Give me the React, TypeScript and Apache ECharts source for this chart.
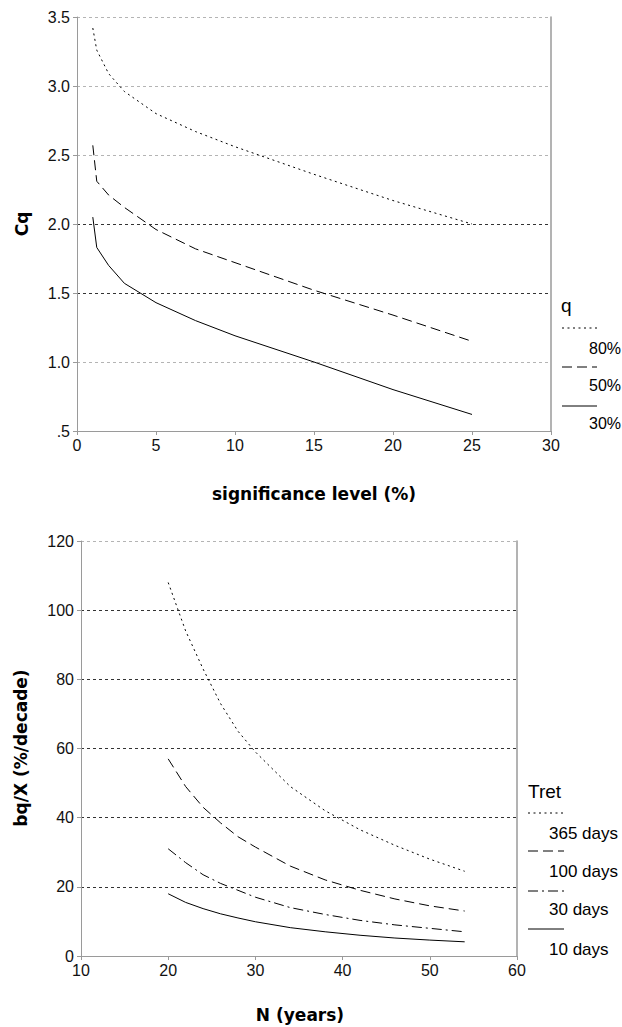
import React, { useEffect, useRef } from "react";
import * as echarts from "echarts";

// ---- Top chart data (Cq vs significance level) ----
const sigLevel = [1, 1.25, 2, 3, 5, 7.5, 10, 15, 20, 25];
const cq80 = [3.42, 3.26, 3.09, 2.96, 2.8, 2.67, 2.56, 2.36, 2.17, 2.0];
const cq50 = [2.57, 2.31, 2.21, 2.12, 1.96, 1.82, 1.72, 1.52, 1.34, 1.15];
const cq30 = [2.05, 1.83, 1.7, 1.57, 1.43, 1.3, 1.19, 1.0, 0.8, 0.62];
const topNames = ["80%", "50%", "30%"];
const topXTicks = [0, 30, 5];
const topYTicks = [0.5, 3.5, 0.5];

// ---- Bottom chart data (bq/X vs N) ----
const nYears = [20, 22, 24, 26, 28, 30, 34, 38, 42, 46, 50, 54];
const tret365 = [108, 94, 83, 73, 65, 59, 49, 42, 36.5, 32, 28, 24.5];
const tret100 = [57, 49, 43, 38.5, 34.5, 31.5, 26, 22, 19, 16.5, 14.5, 13];
const tret30 = [31, 27, 23.5, 21, 19, 17, 14, 12, 10.3, 9, 8, 7];
const tret10 = [18, 15.5, 13.7, 12.2, 11, 9.9, 8.2, 7, 6, 5.2, 4.6, 4.1];
const bottomNames = ["365 days", "100 days", "30 days", "10 days"];
const botXTicks = [10, 60, 10];
const botYTicks = [0, 120, 20];

const DOT = [2, 3.5];
const DASH = [10, 5];
const DASHDOT = [10, 4, 2, 4];
const SOLID: any = "solid";

const REG = "'Liberation Sans', Arial, sans-serif";
const BOLD = "'DejaVu Sans', sans-serif";
const AXIS_GRAY = "#9a9a9a";
const GRID_LIGHT = "#b4b4b4";
const GRID_DARK = "#333";

function pairs(xs: number[], ys: number[]) {
  return xs.map((x, i) => [x, ys[i]]);
}

export default function App() {
  const ref = useRef<HTMLDivElement>(null);
  useEffect(() => {
    document.body.style.margin = "0";
    const chart = echarts.init(ref.current!, null, { renderer: "svg" });

    const valueAxisCommon = {
      type: "value" as const,
      axisLine: { show: true, lineStyle: { color: AXIS_GRAY, width: 1 } },
      axisTick: { show: true, length: 4, lineStyle: { color: AXIS_GRAY } },
      axisLabel: { color: "#111", fontSize: 16, fontFamily: REG },
    };

    const topDash = [DOT, DASH, SOLID];
    const topData = [cq80, cq50, cq30];
    const botDash = [DOT, DASH, DASHDOT, SOLID];
    const botData = [tret365, tret100, tret30, tret10];

    const graphics: any[] = [
      {
        type: "text",
        x: 22,
        y: 224,
        rotation: Math.PI / 2,
        style: { text: "Cq", font: `bold 17px ${BOLD}`, fill: "#000", textAlign: "center", textVerticalAlign: "middle" },
      },
      {
        type: "text",
        x: 314,
        y: 494,
        style: { text: "significance level (%)", font: `bold 17px ${BOLD}`, fill: "#000", textAlign: "center", textVerticalAlign: "middle" },
      },
      {
        type: "text",
        x: 21,
        y: 748,
        rotation: Math.PI / 2,
        style: { text: "bq/X (%/decade)", font: `bold 17px ${BOLD}`, fill: "#000", textAlign: "center", textVerticalAlign: "middle" },
      },
      {
        type: "text",
        x: 300,
        y: 1015,
        style: { text: "N (years)", font: `bold 17px ${BOLD}`, fill: "#000", textAlign: "center", textVerticalAlign: "middle" },
      },
      // top legend
      {
        type: "text",
        x: 561,
        y: 305,
        style: { text: "q", font: `19px ${REG}`, fill: "#000", textAlign: "left", textVerticalAlign: "middle" },
      },
      // bottom legend
      {
        type: "text",
        x: 528,
        y: 791,
        style: { text: "Tret", font: `19px ${REG}`, fill: "#000", textAlign: "left", textVerticalAlign: "middle" },
      },
    ];
    const topLineY = [328, 367, 406];
    const topTextY = [348, 385, 423];
    topNames.forEach((name, i) => {
      graphics.push({
        type: "line",
        shape: { x1: 562, y1: topLineY[i], x2: 597, y2: topLineY[i] },
        style: { stroke: "#000", lineWidth: 1, lineDash: topDash[i] === SOLID ? null : topDash[i] },
      });
      graphics.push({
        type: "text",
        x: 589,
        y: topTextY[i],
        style: { text: name, font: `16px ${REG}`, fill: "#000", textAlign: "left", textVerticalAlign: "middle" },
      });
    });
    const botLineY = [813, 851, 891, 929];
    const botTextY = [833, 871, 909.5, 949];
    bottomNames.forEach((name, i) => {
      graphics.push({
        type: "line",
        shape: { x1: 528, y1: botLineY[i], x2: 564, y2: botLineY[i] },
        style: { stroke: "#000", lineWidth: 1, lineDash: botDash[i] === SOLID ? null : botDash[i] },
      });
      graphics.push({
        type: "text",
        x: 549,
        y: botTextY[i],
        style: { text: name, font: `17px ${REG}`, fill: "#000", textAlign: "left", textVerticalAlign: "middle" },
      });
    });

    const option: any = {
      animation: false,
      backgroundColor: "#fff",
      grid: [
        { left: 77, top: 17, width: 474, height: 414 },
        { left: 81, top: 541, width: 436, height: 415 },
      ],
      xAxis: [
        {
          ...valueAxisCommon,
          gridIndex: 0,
          min: topXTicks[0],
          max: topXTicks[1],
          interval: topXTicks[2],
          splitLine: { show: false },
          axisLabel: { ...valueAxisCommon.axisLabel, margin: 6 },
        },
        {
          ...valueAxisCommon,
          gridIndex: 1,
          min: botXTicks[0],
          max: botXTicks[1],
          interval: botXTicks[2],
          splitLine: { show: false },
          axisLabel: { ...valueAxisCommon.axisLabel, margin: 6 },
        },
      ],
      yAxis: [
        {
          ...valueAxisCommon,
          gridIndex: 0,
          min: topYTicks[0],
          max: topYTicks[1],
          interval: topYTicks[2],
          axisLabel: {
            ...valueAxisCommon.axisLabel,
            margin: 7,
            formatter: (v: number) => (v === 0.5 ? ".5" : v.toFixed(1)),
          },
          splitLine: {
            show: true,
            showMinLine: false,
            lineStyle: {
              type: [3, 3],
              width: 1,
              color: [GRID_LIGHT, GRID_DARK, GRID_DARK, GRID_LIGHT, GRID_LIGHT, GRID_LIGHT],
            },
          },
        },
        {
          type: "value",
          gridIndex: 0,
          position: "right",
          min: topYTicks[0],
          max: topYTicks[1],
          interval: topYTicks[2],
          axisLine: { show: true, lineStyle: { color: AXIS_GRAY, width: 1.5 } },
          axisTick: { show: false },
          axisLabel: { show: false },
          splitLine: { show: false },
        },
        {
          ...valueAxisCommon,
          gridIndex: 1,
          min: botYTicks[0],
          max: botYTicks[1],
          interval: botYTicks[2],
          axisLabel: { ...valueAxisCommon.axisLabel, margin: 7 },
          splitLine: {
            show: true,
            showMinLine: false,
            lineStyle: {
              type: [3, 3],
              width: 1,
              color: [GRID_DARK, GRID_DARK, GRID_DARK, GRID_DARK, GRID_DARK, GRID_LIGHT],
            },
          },
        },
        {
          type: "value",
          gridIndex: 1,
          position: "right",
          min: botYTicks[0],
          max: botYTicks[1],
          interval: botYTicks[2],
          axisLine: { show: true, lineStyle: { color: AXIS_GRAY, width: 1.5 } },
          axisTick: { show: false },
          axisLabel: { show: false },
          splitLine: { show: false },
        },
      ],
      series: [
        ...topNames.map((name, i) => ({
          name,
          type: "line",
          xAxisIndex: 0,
          yAxisIndex: 0,
          data: pairs(sigLevel, topData[i]),
          showSymbol: false,
          symbol: "none",
          lineStyle: { color: "#000", width: 1, type: topDash[i] },
          z: 5,
        })),
        ...bottomNames.map((name, i) => ({
          name,
          type: "line",
          xAxisIndex: 1,
          yAxisIndex: 2,
          data: pairs(nYears, botData[i]),
          showSymbol: false,
          symbol: "none",
          lineStyle: { color: "#000", width: 1, type: botDash[i] },
          z: 5,
        })),
      ],
      graphic: graphics,
    };
    chart.setOption(option);
    return () => chart.dispose();
  }, []);
  return <div ref={ref} style={{ width: 622, height: 1027 }} />;
}
